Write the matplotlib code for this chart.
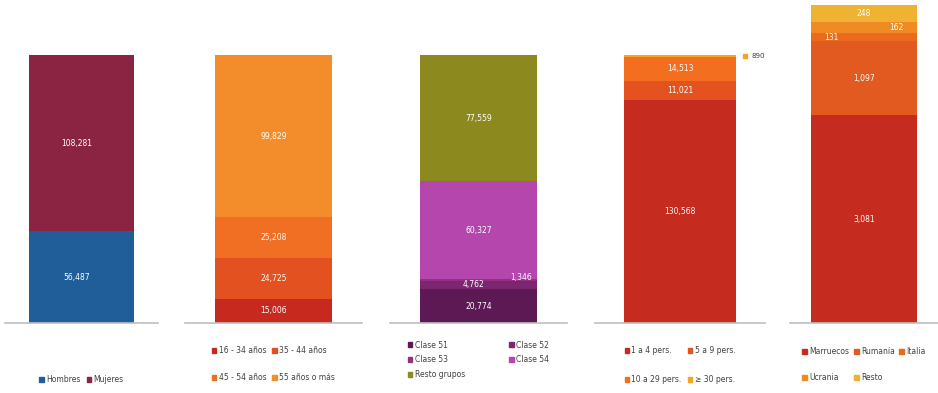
import numpy as np
import matplotlib
matplotlib.use('Agg')
from matplotlib import pyplot as plt
from matplotlib.patches import Patch

# sexo
sexo = ['Hombres', 'Mujeres']
sexo_vals = [56487, 108281]
sexo_cols = ['#1F5E98', '#8B2343']

# edad
edad = ['16 - 34 años', '35 - 44 años', '45 - 54 años', '55 años o más']
edad_vals = [15006, 24725, 25208, 99829]
edad_cols = ['#C8291F', '#E2511F', '#F06F22', '#F38D2B']

# clase
clase = ['Clase 51', 'Clase 52', 'Clase 53', 'Clase 54', 'Resto grupos']
clase_vals = [20774, 4762, 1346, 60327, 77559]
clase_cols = ['#5C1953', '#7D2670', '#94317F', '#B546AE', '#8C8A1F']

# tamaño
tam = ['1 a 4 pers.', '5 a 9 pers.', '10 a 29 pers.', '≥ 30 pers.']
tam_vals = [130568, 11021, 14513, 890]
tam_cols = ['#C52B1F', '#E4531F', '#F36E1F', '#F2A526']

# nacionalidad
nac = ['Marruecos', 'Rumanía', 'Italia', 'Ucrania', 'Resto']
nac_vals = [3081, 1097, 131, 162, 248]
nac_cols = ['#C52B1F', '#E25A1F', '#EA6A1E', '#F08A22', '#F0B232']

W, H = 938, 393
fig = plt.figure(figsize=(W / 100, H / 100), dpi=100)


def px_axes(x0, x1, ytop, ybot=323):
    return fig.add_axes([x0 / W, (H - ybot) / H, (x1 - x0) / W, (ybot - ytop) / H])


def stack(ax, vals, cols, width):
    bottoms = np.concatenate([[0], np.cumsum(vals)[:-1]])
    bars = []
    for v, b, c in zip(vals, bottoms, cols):
        bars.append(ax.bar(0, v, bottom=b, width=width, color=c, linewidth=0)[0])
    ax.set_xlim(-0.5, 0.5)
    ax.set_ylim(0, sum(vals))
    ax.set_xticks([])
    ax.set_yticks([])
    for s in ['top', 'left', 'right']:
        ax.spines[s].set_visible(False)
    ax.spines['bottom'].set_color('#BFBFBF')
    ax.spines['bottom'].set_linewidth(1.2)
    return bars, bottoms


def lab(ax, x, y, v, **kw):
    ax.text(x, y, f'{v:,}', color='white', fontsize=5.5, ha='center', va='center', **kw)


def legend(ax, names, cols, order, ncol, y=-0.06, **kw):
    handles = [Patch(color=cols[i], label=names[i]) for i in order]
    opts = dict(ncol=ncol, loc='upper center', bbox_to_anchor=(0.5, y),
                frameon=False, fontsize=5.5, handlelength=0.6, handleheight=0.6,
                handletextpad=0.3, columnspacing=0.8, labelcolor='#404040')
    opts.update(kw)
    ax.legend(handles=handles, **opts)


# 1
ax1 = px_axes(5, 158, 55)
bars, bt = stack(ax1, sexo_vals, sexo_cols, 0.69)
for v, b in zip(sexo_vals, bt):
    lab(ax1, -0.03, b + v / 2, v)
legend(ax1, sexo, sexo_cols, [0, 1], 2, y=-0.17)

# 2
ax2 = px_axes(185, 362, 55)
bars, bt = stack(ax2, edad_vals, edad_cols, 0.66)
for v, b in zip(edad_vals, bt):
    lab(ax2, 0, b + v / 2, v)
legend(ax2, edad, edad_cols, [0, 2, 1, 3], 2, labelspacing=2.4)

# 3
ax3 = px_axes(390, 567, 55)
bars, bt = stack(ax3, clase_vals, clase_cols, 0.66)
lab(ax3, 0, bt[0] + clase_vals[0] / 2, clase_vals[0])
lab(ax3, -0.03, bt[1] + clase_vals[1] / 2 + 500, clase_vals[1])
lab(ax3, 0.24, bt[2] + clase_vals[2] / 2 + 1500, clase_vals[2])
lab(ax3, 0, bt[3] + clase_vals[3] / 2, clase_vals[3])
lab(ax3, 0, bt[4] + clase_vals[4] / 2, clase_vals[4])
legend(ax3, clase, clase_cols, [0, 2, 4, 1, 3], 2, y=-0.04,
       labelspacing=0.75, columnspacing=5.8)

# 4
ax4 = px_axes(595, 765, 55)
bars, bt = stack(ax4, tam_vals, tam_cols, 0.66)
for v, b in zip(tam_vals[:3], bt[:3]):
    lab(ax4, 0, b + v / 2, v)
ax4.plot(0.38, bt[3] + tam_vals[3] / 2, 's', color=tam_cols[3], ms=2.5, clip_on=False)
ax4.text(0.42, bt[3] + tam_vals[3] / 2, f'{tam_vals[3]:,}', color='#404040',
         fontsize=5, ha='left', va='center')
legend(ax4, tam, tam_cols, [0, 2, 1, 3], 2, labelspacing=2.6)

# 5
ax5 = px_axes(790, 938, 5)
bars, bt = stack(ax5, nac_vals, nac_cols, 0.71)
lab(ax5, 0, bt[0] + nac_vals[0] / 2, nac_vals[0])
lab(ax5, 0, bt[1] + nac_vals[1] / 2, nac_vals[1])
lab(ax5, -0.22, bt[2] + nac_vals[2] / 2, nac_vals[2])
lab(ax5, 0.22, bt[3] + nac_vals[3] / 2, nac_vals[3])
lab(ax5, 0, bt[4] + nac_vals[4] / 2, nac_vals[4])
legend(ax5, nac, nac_cols, [0, 3, 1, 4, 2], 3, y=-0.055, labelspacing=2.2, columnspacing=0.6)

fig.savefig('out.png', dpi=100, facecolor='white')
